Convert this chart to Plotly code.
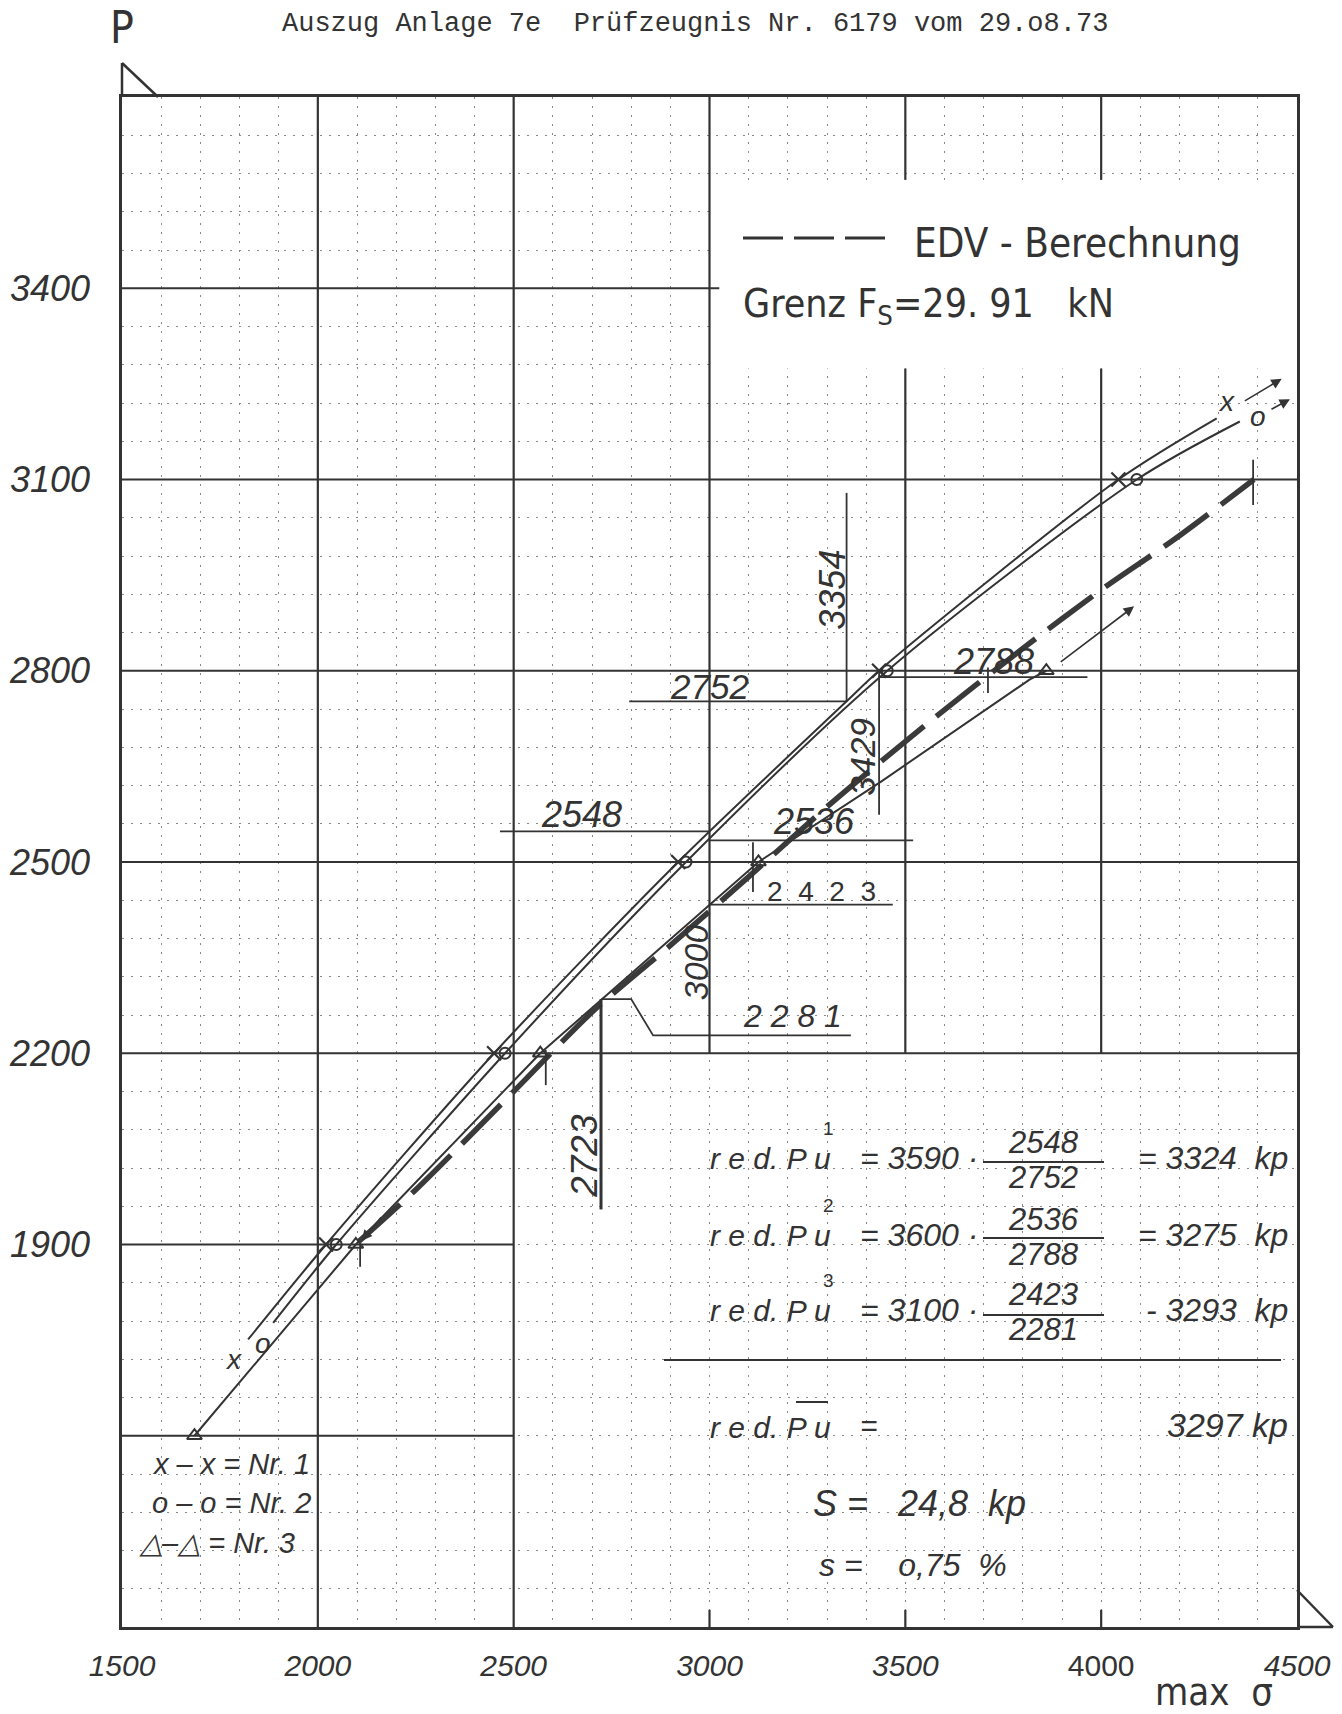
import plotly.graph_objects as go

# ------------------------------------------------------------------
# Data (max sigma vs. P)
# ------------------------------------------------------------------
x_ticks = [1500, 2000, 2500, 3000, 3500, 4000, 4500]
x_tick_text = ["<i>1500</i>", "<i>2000</i>", "<i>2500</i>", "<i>3000</i>", "<i>3500</i>", "4000", "<i>4500</i>"]
y_ticks = [1900, 2200, 2500, 2800, 3100, 3400]
y_tick_text = ["<i>1900</i>", "<i>2200</i>", "<i>2500</i>", "<i>2800</i>", "<i>3100</i>", "<i>3400</i>"]

# Nr.1  (x - x)
nr1_sigma = [1822, 2021, 2450, 2920, 3350, 3433, 4044, 4295]
nr1_P = [1751, 1900, 2200, 2500, 2752, 2800, 3100, 3196]
nr1_mark_sigma = [2021, 2450, 2920, 3433, 4044]
nr1_mark_P = [1900, 2200, 2500, 2800, 3100]

# Nr.2  (o - o)
nr2_sigma = [1886, 2047, 2478, 2940, 3454, 4091, 4354]
nr2_P = [1777, 1900, 2200, 2500, 2800, 3100, 3191]
nr2_mark_sigma = [2047, 2478, 2940, 3454, 4091]
nr2_mark_P = [1900, 2200, 2500, 2800, 3100]

# Nr.3  (triangles)
nr3_sigma = [1685, 2097, 2568, 3125, 3440, 3817, 3860]
nr3_P = [1600, 1900, 2200, 2500, 2627, 2786, 2800]
nr3_mark_sigma = [1685, 2097, 2568, 3125, 3860]
nr3_mark_P = [1600, 1900, 2200, 2500, 2800]

# EDV - Berechnung (dashed)
edv_sigma = [2105, 2250, 2500, 2701, 2911, 3104, 3314, 3558, 3800, 4007, 4189, 4390]
edv_P = [1905, 1986, 2140, 2265, 2375, 2479, 2594, 2718, 2835, 2930, 3007, 3100]

# construction / dimension lines
dim_2752_sigma, dim_2752_P = [2795, 3350], [2752, 2752]
dim_3354_sigma, dim_3354_P = [3350, 3350], [2752, 3079]
dim_2548_sigma, dim_2548_P = [2465, 3000], [2548, 2548]
dim_2536_sigma, dim_2536_P = [3000, 3520], [2534, 2534]
tick_2536_sigma, tick_2536_P = [3111, 3111], [2453, 2531]
dim_2423_sigma, dim_2423_P = [3000, 3468], [2433, 2433]
dim_2281_sigma, dim_2281_P = [2723, 2800, 2856, 3361], [2285, 2285, 2228, 2228]
dim_2723_sigma, dim_2723_P = [2723, 2723], [1955, 2285]
dim_3429_sigma, dim_3429_P = [3433, 3433], [2574, 2800]
dim_2788_sigma, dim_2788_P = [3431, 3965], [2790, 2790]
tick_2788_sigma, tick_2788_P = [3711, 3711], [2765, 2805]
edv_end_sigma, edv_end_P = [4388, 4388], [3060, 3131]
tick_t1_sigma, tick_t1_P = [2108, 2108], [1865, 1902]
tick_t2_sigma, tick_t2_P = [2582, 2582], [2150, 2205]

dim_labels = ["2752", "3354", "2548", "2536", "2423", "3000", "2281", "2723", "3429", "2788"]

# ------------------------------------------------------------------
W, H = 1342, 1714
L, R, T, B = 122, 1297, 97, 1627
XR = [1500, 4500]
YR = [1300, 3700]

def PX(x):
    return (x - L) / (R - L)

def PY(y):
    return (B - y) / (B - T)

INK = "#333333"
HAND = "Liberation Sans, Arial, sans-serif"
NARROW = "Liberation Sans Narrow, DejaVu Sans Condensed, Liberation Sans, sans-serif"
MONO = "Liberation Mono, DejaVu Sans Mono, monospace"

fig = go.Figure()

def add_line(sx, sy, width=1.8, dash=None, shape="linear", color=INK):
    fig.add_trace(go.Scatter(x=sx, y=sy, mode="lines", hoverinfo="skip",
                             line=dict(color=color, width=width, dash=dash, shape=shape, smoothing=0.8),
                             showlegend=False))

# measured curves
add_line(nr1_sigma, nr1_P, 2, shape="spline")
add_line(nr2_sigma, nr2_P, 2, shape="spline")
add_line(nr3_sigma, nr3_P, 2)
add_line(edv_sigma, edv_P, 5.5, dash="55px,16px", shape="spline", color="#3a3a3a")

# construction lines
for sx, sy in [(dim_2752_sigma, dim_2752_P), (dim_3354_sigma, dim_3354_P),
               (dim_2548_sigma, dim_2548_P), (dim_2536_sigma, dim_2536_P),
               (tick_2536_sigma, tick_2536_P), (dim_2423_sigma, dim_2423_P),
               (dim_2281_sigma, dim_2281_P), (dim_3429_sigma, dim_3429_P),
               (dim_2788_sigma, dim_2788_P), (tick_2788_sigma, tick_2788_P),
               (edv_end_sigma, edv_end_P), (tick_t1_sigma, tick_t1_P),
               (tick_t2_sigma, tick_t2_P)]:
    add_line(sx, sy, 1.8)
add_line(dim_2723_sigma, dim_2723_P, 3)

# markers
fig.add_trace(go.Scatter(x=nr1_mark_sigma, y=nr1_mark_P, mode="markers", showlegend=False,
                         marker=dict(symbol="x-thin", size=14, line=dict(color=INK, width=2.2))))
fig.add_trace(go.Scatter(x=nr2_mark_sigma, y=nr2_mark_P, mode="markers", showlegend=False,
                         marker=dict(symbol="circle-open", size=11, color=INK, line=dict(color=INK, width=2))))
fig.add_trace(go.Scatter(x=nr3_mark_sigma, y=nr3_mark_P, mode="markers", showlegend=False,
                         marker=dict(symbol="triangle-up-open", size=13, color=INK, line=dict(color=INK, width=2))))

# ------------------------------------------------------------------
shapes = []
# white box behind the legend text (paper grid is empty there)
shapes.append(dict(type="rect", xref="x", yref="y", x0=3003, x1=4497, y0=3274, y1=3570,
                   fillcolor="white", line=dict(width=0), layer="between"))

def seg(x0, y0, x1, y1, w=2.2, layer="between"):
    shapes.append(dict(type="line", xref="x", yref="y", x0=x0, y0=y0, x1=x1, y1=y1,
                       line=dict(color=INK, width=w), layer=layer))

# solid grid of the paper (partly interrupted)
for xv, y0, y1 in [(2000, 1300, 3700), (2500, 1300, 3700), (3000, 2200, 3700),
                   (3500, 2200, 3274), (3500, 3570, 3700), (4000, 2200, 3274), (4000, 3570, 3700),
                   (3000, 1300, 1327), (3500, 1300, 1327), (4000, 1300, 1327)]:
    seg(xv, y0, xv, y1)
for yv, x0, x1 in [(1600, 1500, 2500), (1900, 1500, 2500), (2200, 1500, 4500),
                   (2500, 1500, 4500), (2800, 1500, 4500), (3100, 1500, 4500), (3400, 1500, 3025)]:
    seg(x0, yv, x1, yv)

def pline(x0, y0, x1, y1, w=2, dash=None):
    shapes.append(dict(type="line", xref="paper", yref="paper", x0=PX(x0), y0=PY(y0),
                       x1=PX(x1), y1=PY(y1), line=dict(color=INK, width=w, dash=dash)))

# corner ornaments
pline(L, 63, L, T, 2.5)
pline(L, 63, 158, T, 2.5)
pline(R, 1590, 1333, B, 2.5)
pline(R, B, 1333, B, 2.5)
# legend dash sample
pline(743, 238, 885, 238, 3, "40px,11px")
# fraction bars and rule
pline(983, 1162, 1104, 1162, 1.8)
pline(983, 1238, 1104, 1238, 1.8)
pline(983, 1315, 1104, 1315, 1.8)
pline(664, 1360, 1281, 1360, 2.2)
pline(796, 1402, 828, 1402, 2)

# ------------------------------------------------------------------
ann = []

def ptxt(x, y, s, size, xanchor="center", family=HAND, angle=0):
    ann.append(dict(x=PX(x), y=PY(y), xref="paper", yref="paper", text=s, showarrow=False,
                    xanchor=xanchor, yanchor="middle", textangle=angle,
                    font=dict(family=family, size=size, color=INK)))

def dtxt(x, y, s, size, angle=0, italic=True, family=HAND):
    ann.append(dict(x=x, y=y, xref="x", yref="y", text=("<i>%s</i>" % s) if italic else s,
                    showarrow=False, xanchor="center", yanchor="middle", textangle=angle,
                    font=dict(family=family, size=size, color=INK)))

def arrow(x0, y0, x1, y1):
    ann.append(dict(x=x1, y=y1, ax=x0, ay=y0, xref="x", yref="y", axref="x", ayref="y",
                    text="", showarrow=True, arrowhead=2, arrowsize=1.3, arrowwidth=1.6,
                    arrowcolor=INK, font=dict(size=10)))

# header
ptxt(122, 28, "P", 44, family=NARROW)
ptxt(695, 24, "Auszug Anlage 7e  Prüfzeugnis Nr. 6179 vom 29.o8.73", 27, family=MONO)
ptxt(1153, 1692, "max  σ", 38, xanchor="left", family=NARROW)

# legend box
ptxt(912, 243, "EDV - Berechnung", 40, xanchor="left", family=NARROW)
ptxt(741, 306, "Grenz F<sub>S</sub>=29. 91   kN", 39, xanchor="left", family=NARROW)

# dimension labels
dtxt(3001, 2776, dim_labels[0], 35)
dtxt(3315, 2927, dim_labels[1], 36, angle=-90)
dtxt(2672, 2574, dim_labels[2], 36)
dtxt(3267, 2563, dim_labels[3], 36)
dtxt(3287, 2453, "  ".join(dim_labels[4]), 28, italic=False)
dtxt(2966, 2343, dim_labels[5], 34, angle=-90)
dtxt(3211, 2258, " ".join(dim_labels[6]), 32)
dtxt(2682, 2039, dim_labels[7], 37, angle=-90)
dtxt(3392, 2665, dim_labels[8], 35, angle=-90)
dtxt(3726, 2815, dim_labels[9], 36)

# curve end labels and arrows
dtxt(4320, 3222, "x", 28)
dtxt(4401, 3199, "o", 28)
dtxt(1784, 1720, "x", 28)
dtxt(1860, 1745, "o", 28)
arrow(4363, 3222, 4461, 3258)
arrow(4431, 3209, 4482, 3226)
arrow(3893, 2812, 4084, 2901)
arrow(2165, 1945, 2112, 1906)

# legend (lower left)
ptxt(150, 1464, "<i>x – x = Nr. 1</i>", 29, xanchor="left")
ptxt(150, 1503, "<i>o – o = Nr. 2</i>", 29, xanchor="left")
ptxt(137, 1543, "<i>△–△ = Nr. 3</i>", 29, xanchor="left")

# formulas
for yy, sup, fac, num, den, res in [(1158, "1", "= 3590 ·", "2548", "2752", "= 3324  kp"),
                                    (1235, "2", "= 3600 ·", "2536", "2788", "= 3275  kp"),
                                    (1310, "3", "= 3100 ·", "2423", "2281", "- 3293  kp")]:
    ptxt(708, yy, "<i>r e d. P u</i>", 30, xanchor="left")
    ptxt(828, yy - 30, sup, 19)
    ptxt(858, yy, "<i>%s</i>" % fac, 32, xanchor="left")
    ptxt(1043, yy - 16, "<i>%s</i>" % num, 31)
    ptxt(1043, yy + 19, "<i>%s</i>" % den, 31)
    ptxt(1290, yy, "<i>%s</i>" % res, 32, xanchor="right")

ptxt(708, 1427, "<i>r e d. P u</i>", 30, xanchor="left")
ptxt(858, 1425, "<i>=</i>", 30, xanchor="left")
ptxt(1290, 1425, "<i>3297 kp</i>", 34, xanchor="right")
ptxt(811, 1503, "<i>S =   24,8  kp</i>", 36, xanchor="left")
ptxt(817, 1565, "<i>s =    o,75  %</i>", 32, xanchor="left")

# ------------------------------------------------------------------
fig.update_layout(
    width=W, height=H,
    margin=dict(l=L, r=W - R, t=T, b=H - B, autoexpand=False),
    paper_bgcolor="white", plot_bgcolor="white",
    shapes=shapes, annotations=ann, showlegend=False,
    xaxis=dict(range=XR, showgrid=False, zeroline=False, showline=True, mirror=True,
               linecolor=INK, linewidth=2.5, tickvals=x_ticks, ticktext=x_tick_text,
               ticks="", ticklabelstandoff=10,
               tickfont=dict(family=HAND, size=30, color=INK),
               minor=dict(dtick=100, tick0=1500, showgrid=True, gridcolor="#8a8a8a",
                          griddash="2px,7px", gridwidth=1, ticks="")),
    yaxis=dict(range=YR, showgrid=False, zeroline=False, showline=True, mirror=True,
               linecolor=INK, linewidth=2.5, tickvals=y_ticks, ticktext=y_tick_text,
               ticks="", ticklabelstandoff=22,
               tickfont=dict(family=HAND, size=36, color=INK),
               minor=dict(dtick=60, tick0=1300, showgrid=True, gridcolor="#8a8a8a",
                          griddash="2px,7px", gridwidth=1, ticks="")),
)

fig.write_html("out.html")
